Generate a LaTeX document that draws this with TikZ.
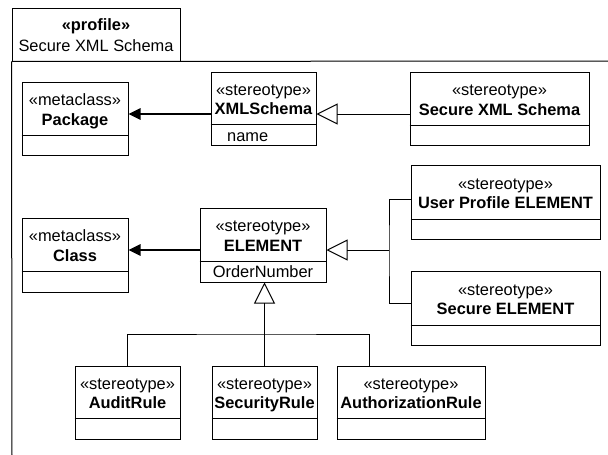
\documentclass[tikz,border=0pt]{standalone}
\usepackage{fontspec}
\setmainfont{Liberation Sans}
\usetikzlibrary{arrows.meta,fit}
\tikzset{
  clsbox/.style={draw, line width=1pt, inner sep=0pt},
  clsline/.style={line width=1pt},
  lbl/.style={anchor=base, inner sep=0pt, font=\fontsize{16.4}{18}\selectfont},
  ttl/.style={anchor=base, inner sep=0pt, font=\fontsize{16.4}{18}\selectfont\bfseries},
  extn/.style={line width=2.6pt, -{Triangle[length=12pt,width=11pt]}},
  gen/.style={line width=1pt, -{Triangle[open,length=21pt,width=21pt,line width=1pt]}},
  conn/.style={line width=1pt},
}
\newcommand\umlcls[8]{%
  \node[clsbox, fit={(#2,#3) (#4,#5)}] (#1) {};
  \draw[clsline] (#1.west |- 0,#6) -- (#1.east |- 0,#6);
  \node[lbl] (#1-s) at ({(#2+#4)/2},{(#3+#6)/2-3}) {«#7»};
  \node[ttl] (#1-t) at ({(#2+#4)/2},{(#3+#6)/2+16.5}) {#8};
}
\begin{document}
\begin{tikzpicture}[x=1pt,y=-1pt]
\useasboundingbox (0,0) rectangle (608,455);
% profile frame
\node[clsbox, fit={(12,8) (180,61)}] (tab) {};
\node[ttl] (tab-s) at (96,30.5) {«profile»};
\node[lbl] (tab-t) at (96,51.5) {Secure XML Schema};
\draw[clsline] (tab.south west) -- (12,455);
\draw[clsline] (tab.south west) -- (608,61);

% classes
\umlcls{pkg}{22}{82}{128}{155}{135}{metaclass}{Package}
\umlcls{xmls}{211}{72}{316}{145}{124}{stereotype}{XMLSchema}
\node[lbl, anchor=base west] (xmls-a) at (227,141.7) {name};
\umlcls{sxs}{410}{72}{589}{145}{125}{stereotype}{Secure XML Schema}

\umlcls{cls}{22}{218}{128}{292}{271}{metaclass}{Class}
\umlcls{elem}{200}{208}{326}{282}{261}{stereotype}{ELEMENT}
\node[lbl] (elem-a) at (263,277.7) {OrderNumber};
\umlcls{upe}{411}{165}{600}{239}{219}{stereotype}{User Profile ELEMENT}
\umlcls{se}{411}{271}{600}{345}{325}{stereotype}{Secure ELEMENT}

\umlcls{audit}{75}{366}{180}{439}{418}{stereotype}{AuditRule}
\umlcls{secr}{212}{366}{317}{439}{418}{stereotype}{SecurityRule}
\umlcls{auth}{337}{366}{485}{439}{418}{stereotype}{AuthorizationRule}

% extensions
\draw[extn] (xmls.west |- 0,114) -- (pkg.east |- 0,114);
\draw[extn] (elem.west |- 0,250) -- (cls.east |- 0,250);

% generalizations
\draw[gen] (sxs.west |- 0,114) -- (xmls.east |- 0,114);
\coordinate (j1) at (389,250);
\draw[conn] (upe.west |- 0,199) -| (j1) |- (se.west |- 0,303);
\draw[gen] (j1) -- (elem.east |- j1);

\coordinate (j2) at (secr.north |- 0,334);
\draw[gen] (secr.north) -- (secr.north |- elem.south);
\draw[conn] (audit.north) |- (j2) -| ([xshift=-42pt]auth.north);
\end{tikzpicture}
\end{document}
